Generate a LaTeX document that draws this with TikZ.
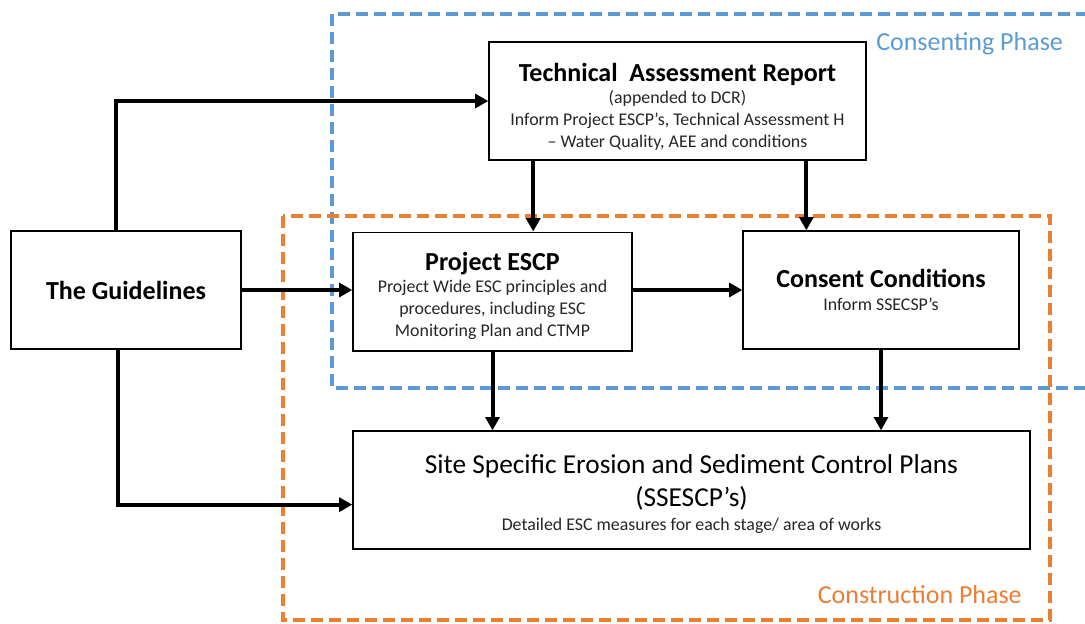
\documentclass[tikz,border=0pt]{standalone}
\usepackage{fontspec}
\setmainfont{Carlito}
\usetikzlibrary{arrows.meta,positioning}
\definecolor{phaseblue}{HTML}{5B9BD5}
\definecolor{phaseorange}{HTML}{ED7D31}

\begin{document}
\begin{tikzpicture}[x=0.75pt,y=-0.75pt,
    box/.style={draw, line width=1pt, fill=white, align=center, inner sep=0pt,
      text=black!85, font=\fontsize{13.4}{16.5}\selectfont},
    flow/.style={line width=3pt, -{Triangle[length=10pt,width=10.5pt]}},
    phase/.style={line width=3pt, dash pattern=on 9pt off 4.5pt},
    phaselabel/.style={font=\fontsize{19.5}{23}\selectfont, inner sep=0pt}]
  \useasboundingbox (0,0) rectangle (1085,624);
  % phase frames
  \draw[phase, phaseblue] (332,14) rectangle (1110,388);
  \draw[phase, phaseorange] (283,216) rectangle (1050,620);
  \node[phaselabel, phaseblue, anchor=west] (consenting) at (876,44) {Consenting Phase};
  \node[phaselabel, phaseorange, anchor=east] (construction) at (1022,595) {Construction Phase};

  % boxes
  \node[box, minimum width=172.5pt, minimum height=88.5pt] (gl) at (126,290)
    {{\color{black}\fontsize{19.5}{23}\selectfont\bfseries The Guidelines}};
  \node[box, minimum width=282.75pt, minimum height=88.5pt] (tar) at (677.5,101)
    {{\color{black}\fontsize{19.5}{23}\selectfont\bfseries\rule{0pt}{22pt}Technical\ \ Assessment Report}\\
     (appended to DCR)\\
     Inform Project ESCP’s, Technical Assessment H\\
     – Water Quality, AEE and conditions};
  \node[box, minimum width=209.25pt, minimum height=89pt] (esc) at (492.5,291.5)
    {{\color{black}\fontsize{19.5}{23}\selectfont\bfseries\rule{0pt}{20.5pt}Project ESCP}\\
     Project Wide ESC principles and\\
     procedures, including ESC\\
     Monitoring Plan and CTMP};
  \node[box, minimum width=207pt, minimum height=88.5pt] (con) at (881,290)
    {{\color{black}\fontsize{19.5}{23}\selectfont\bfseries Consent Conditions}\\[1pt]
     Inform SSECSP’s};
  \node[box, minimum width=507.75pt, minimum height=88.5pt] (ss) at (691.5,490)
    {{\color{black}\fontsize{20.5}{22.5}\selectfont\rule{0pt}{20pt}Site Specific Erosion and Sediment Control Plans}\\[6pt]
     {\color{black}\fontsize{20.5}{22.5}\selectfont (SSESCP’s)}\\[1pt]
     Detailed ESC measures for each stage/ area of works};

  % connectors
  \coordinate (g1) at ([xshift=-7.5pt]gl.north);
  \coordinate (g2) at ([xshift=-6pt]gl.south);
  \coordinate (s1) at ([yshift=-11pt]ss.west);
  \coordinate (e1) at ([xshift=30.5pt]esc.north);
  \coordinate (c1) at ([xshift=-56pt]con.north);
  \draw[flow] (g1) |- (tar.west);
  \draw[flow] (gl.east) -- (gl.east -| esc.west);
  \draw[flow] (g2) |- (s1);
  \draw[flow] (tar.south -| e1) -- (e1);
  \draw[flow] (tar.south -| c1) -- (c1);
  \draw[flow] (gl.east -| esc.east) -- (gl.east -| con.west);
  \draw[flow] (esc.south) -- (esc.south |- ss.north);
  \draw[flow] (con.south) -- (con.south |- ss.north);
\end{tikzpicture}
\end{document}
